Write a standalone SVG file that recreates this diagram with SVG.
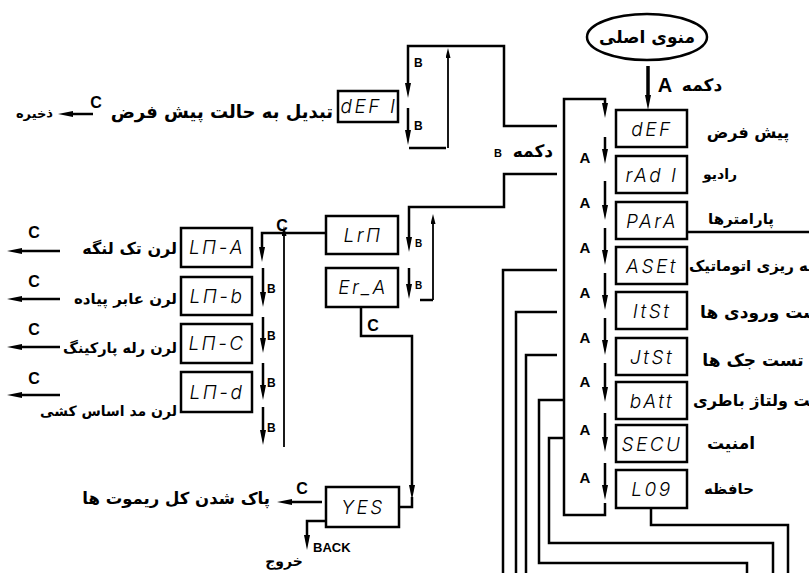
<svg xmlns="http://www.w3.org/2000/svg" width="809" height="573" viewBox="0 0 809 573">
<defs>
<style>
.box{fill:#fff;stroke:#000;stroke-width:2.5}
.ln{fill:none;stroke:#000;stroke-width:2.5}
.thin{fill:none;stroke:#000;stroke-width:1.8}
.seg{font-family:Inter,"DejaVu Sans",sans-serif;font-style:italic;font-weight:300;font-size:19px;letter-spacing:2.5px;text-anchor:middle;fill:#000}
.fa{font-family:"DejaVu Sans",sans-serif;font-weight:bold;font-size:17px;fill:#000}
.lb{font-family:"Liberation Sans",Arial,sans-serif;font-weight:bold;fill:#000}
.m{text-anchor:middle}
.e{text-anchor:end}
</style>
<marker id="ah" markerUnits="userSpaceOnUse" viewBox="0 0 15 6" markerWidth="15" markerHeight="6" refX="4" refY="3" orient="auto"><path d="M0,0 L15,3 L0,6 z" fill="#000"/></marker>
<marker id="ahs" markerUnits="userSpaceOnUse" viewBox="0 0 10 5" markerWidth="10" markerHeight="5" refX="3" refY="2.5" orient="auto"><path d="M0,0 L10,2.5 L0,5 z" fill="#000"/></marker>
</defs>

<g id="connectors">
<line class="ln" x1="648" y1="66" x2="648" y2="99" style="stroke-width:3.5" marker-end="url(#ah)"/>
<path class="ln" d="M605,503 V515 H564 V99 H605 V107" marker-end="url(#ah)"/>
<g class="ln" marker-end="url(#ah)">
<path d="M605,137 V153"/><path d="M605,181 V209"/><path d="M605,228 V254"/><path d="M605,273 V299"/>
<path d="M605,318 V344"/><path d="M605,363 V391"/><path d="M605,413 V441"/><path d="M605,463 V489"/>
</g>
<path class="ln" d="M557,126 H504 V46 H408 V87" marker-end="url(#ah)"/>
<path class="ln" d="M408,108 V134" marker-end="url(#ah)"/>
<path class="ln" d="M409,148 H446"/>
<path class="thin" d="M448,148 V55" marker-end="url(#ahs)"/>
<path class="ln" d="M557,174 H504 V207 H409 V241" marker-end="url(#ah)"/>
<path class="ln" d="M409,268 V288" marker-end="url(#ah)"/>
<path class="ln" d="M420,300 H433"/>
<path class="thin" d="M433,300 V221" marker-end="url(#ahs)"/>
<path class="ln" d="M326,233 H262 V251" marker-end="url(#ah)"/>
<g class="ln" marker-end="url(#ah)">
<path d="M263,268 V296"/><path d="M263,317 V342"/><path d="M263,363 V389"/><path d="M263,407 V434"/>
</g>
<path class="thin" d="M284,447 V233" marker-end="url(#ahs)"/>
<path class="ln" d="M361,307 V336 H412 V489" marker-end="url(#ah)"/>
<path class="ln" d="M412,497 V507 H399"/>
<path class="ln" d="M322,502 H288" marker-end="url(#ah)"/>
<path class="ln" d="M326,521 H307 V539" marker-end="url(#ah)"/>
<path class="ln" d="M93,114 H69" marker-end="url(#ah)"/>
<g class="ln" marker-end="url(#ah)">
<path d="M60,251 H18"/><path d="M60,299 H18"/><path d="M60,347 H18"/><path d="M60,395 H18"/>
</g>
<path class="ln" d="M557,270 H503 V573"/>
<path class="ln" d="M557,312 H516 V573"/>
<path class="ln" d="M557,355 H526 V573"/>
<path class="ln" d="M563,400 H539 V563 H747 V573"/>
<path class="ln" d="M563,438 H549 V543 H773 V573"/>
<path class="ln" d="M651,508 V525 H788 V573"/>
<path class="ln" d="M687,232 H809"/>
<g class="lb m" style="font-size:15px">
<text x="585" y="163">A</text><text x="585" y="208">A</text><text x="585" y="253">A</text><text x="585" y="298">A</text>
<text x="585" y="343">A</text><text x="585" y="387">A</text><text x="585" y="435">A</text><text x="585" y="483">A</text>
</g>
<g class="lb" style="font-size:12px">
<text x="414" y="67">B</text><text x="414" y="130">B</text>
<text x="415" y="247" style="font-size:10px">B</text><text x="415" y="289" style="font-size:10px">B</text>
<text x="267" y="293">B</text><text x="267" y="340">B</text><text x="267" y="387">B</text><text x="267" y="432">B</text>
</g>
<g class="lb m" style="font-size:16px">
<text x="282" y="231">C</text><text x="373" y="331">C</text><text x="302" y="494">C</text><text x="96" y="108">C</text>
<text x="34" y="238">C</text><text x="34" y="287">C</text><text x="34" y="335">C</text><text x="34" y="384">C</text>
</g>
<text class="lb" x="313" y="552" style="font-size:13px">BACK</text>
<text class="lb m" x="665" y="92" style="font-size:20px">A</text>
<text class="fa m" x="702" y="91">دکمه</text>
<text class="fa e" x="553" y="157">دکمه</text>
<text class="lb m" x="498" y="157" style="font-size:11px">B</text>
</g>

<g id="menu">
<ellipse cx="647" cy="37" rx="60" ry="23" fill="#fff" stroke="#000" stroke-width="2.5"/>
<text class="fa m" x="647" y="43">منوی اصلی</text>
</g>

<g id="n-def"><rect class="box" x="616" y="110" width="71" height="37"/><text class="seg" x="652" y="136">dEF</text><text class="fa m" x="748" y="138" style="font-size:16px">پیش فرض</text></g>
<g id="n-radi"><rect class="box" x="616" y="156" width="71" height="37"/><text class="seg" x="652" y="182">rAd I</text><text class="fa m" x="720" y="179" style="font-size:14px">رادیو</text></g>
<g id="n-para"><rect class="box" x="616" y="202" width="71" height="37"/><text class="seg" x="652" y="228">PArA</text><text class="fa m" x="741" y="224" style="font-size:15px">پارامترها</text></g>
<g id="n-aset"><rect class="box" x="616" y="247" width="71" height="37"/><text class="seg" x="652" y="273">ASEt</text><text class="fa" x="689" y="271" style="font-size:15px">برنامه ریزی اتوماتیک</text></g>
<g id="n-itst"><rect class="box" x="616" y="292" width="71" height="37"/><text class="seg" x="652" y="318">ItSt</text><text class="fa" x="700" y="318">تست ورودی ها</text></g>
<g id="n-jtst"><rect class="box" x="616" y="338" width="71" height="37"/><text class="seg" x="652" y="364">JtSt</text><text class="fa m" x="753" y="366">تست جک ها</text></g>
<g id="n-batt"><rect class="box" x="616" y="382" width="71" height="37"/><text class="seg" x="652" y="408">bAtt</text><text class="fa" x="693" y="406" style="font-size:16px">تست ولتاژ باطری</text></g>
<g id="n-secu"><rect class="box" x="616" y="425" width="71" height="37"/><text class="seg" x="652" y="451">SECU</text><text class="fa m" x="731" y="449">امنیت</text></g>
<g id="n-log"><rect class="box" x="616" y="470" width="71" height="38"/><text class="seg" x="652" y="496">L09</text><text class="fa m" x="729" y="494" style="font-size:15px">حافظه</text></g>

<g id="n-def1"><rect class="box" x="338" y="91" width="60" height="31"/><text class="seg" x="369" y="113">dEF I</text><text class="fa e" x="333" y="118" style="font-size:18px">تبدیل به حالت پیش فرض</text><text class="fa e" x="53" y="118" style="font-size:13px">ذخیره</text></g>

<g id="n-lrn"><rect class="box" x="326" y="216" width="72" height="38"/><text class="seg" x="363" y="242">LrП</text></g>
<g id="n-era"><rect class="box" x="326" y="268" width="72" height="39"/><text class="seg" x="363" y="294">Er_A</text></g>

<g id="n-lna"><rect class="box" x="181" y="228" width="71" height="39"/><text class="seg" x="217" y="254">LП-A</text><text class="fa e" x="177" y="254" style="font-size:16px">لرن تک لنگه</text></g>
<g id="n-lnb"><rect class="box" x="181" y="277" width="71" height="38"/><text class="seg" x="217" y="303">LП-b</text><text class="fa e" x="177" y="304" style="font-size:15px">لرن عابر پیاده</text></g>
<g id="n-lnc"><rect class="box" x="181" y="324" width="71" height="39"/><text class="seg" x="217" y="350">LП-C</text><text class="fa e" x="177" y="353" style="font-size:14.5px">لرن رله پارکینگ</text></g>
<g id="n-lnd"><rect class="box" x="181" y="372" width="71" height="40"/><text class="seg" x="217" y="399">LП-d</text><text class="fa e" x="177" y="416" style="font-size:14px">لرن مد اساس کشی</text></g>

<g id="n-yes"><rect class="box" x="326" y="487" width="73" height="40"/><text class="seg" x="363" y="514">YES</text><text class="fa e" x="270" y="504" style="font-size:16.5px">پاک شدن کل ریموت ها</text><text class="fa m" x="284" y="566" style="font-size:14px">خروج</text></g>
</svg>
